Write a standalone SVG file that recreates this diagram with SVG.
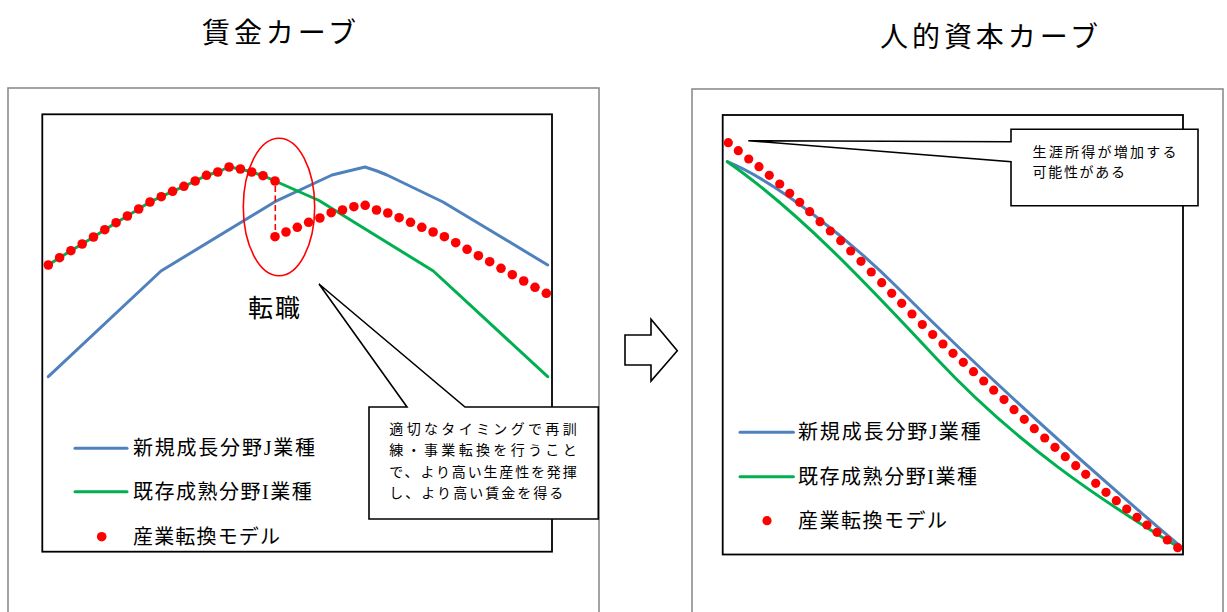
<svg xmlns="http://www.w3.org/2000/svg" width="1227" height="612" viewBox="0 0 1227 612">
<style>
.outer{fill:none;stroke:#8c8c8c;stroke-width:1.6}
.plot{fill:#fff;stroke:#000;stroke-width:1.8}
.blue{fill:none;stroke:#4f81bd;stroke-width:3;stroke-linejoin:round;stroke-linecap:round}
.green{fill:none;stroke:#00b050;stroke-width:3;stroke-linejoin:round;stroke-linecap:round}
.dot{fill:#ff0000}
.callout{fill:#fff;stroke:#000;stroke-width:1.6;stroke-linejoin:miter}
.title{font-family:"Noto Sans CJK JP","Noto Sans",sans-serif;font-size:28px;fill:#000}
.leg{font-family:"Liberation Serif","Noto Sans CJK JP",serif;font-size:20px;fill:#000}
.note{font-family:"Noto Sans CJK JP","Noto Sans",sans-serif;font-size:14px;fill:#000}
</style>
<rect width="1227" height="612" fill="#fff"/>

<g id="title-left"><text class="title" x="202" y="31" dominant-baseline="central" textLength="154" lengthAdjust="spacing">賃金カーブ</text></g>
<g id="title-right"><text class="title" x="880" y="35" dominant-baseline="central" textLength="218" lengthAdjust="spacing">人的資本カーブ</text></g>

<g id="panel-left">
<rect class="outer" x="8" y="88" width="591" height="540"/>
<rect class="plot" x="42.3" y="114.3" width="509.7" height="437.4"/>
</g>
<g id="panel-right">
<rect class="outer" x="692" y="89" width="531" height="540"/>
<rect class="plot" x="722.7" y="115" width="460.3" height="439.5"/>
</g>

<g id="connectors">
<!-- left chart curves -->
<polyline class="blue" points="48.3,376.7 161,271 275,201.7 332,175 365,167 377,171 387,175 443,202 547.7,265"/>
<polyline class="green" points="48.3,265 59.6,257.7 70.9,250.7 82.2,244 93.5,237 104.8,229.7 116.1,222.7 127.4,216 138.7,209 150,202 161.3,196.7 172.6,191.3 183.9,186.3 195.2,181 206.5,175.3 217.8,172 229.1,167 240.4,169 251.7,172 263,175.7 275,181 319,200.5 433.3,271 547.7,376.7"/>
<line x1="275.3" y1="186" x2="275.3" y2="232" stroke="#ff0000" stroke-width="1.6" stroke-dasharray="6,3.5"/>
<ellipse cx="279" cy="207" rx="35.7" ry="68.7" fill="none" stroke="#ff0000" stroke-width="1.6"/>
<!-- right chart curves -->
<path class="blue" d="M727.3,161.7 C777,182 850,240 900,290 C990,380 1090,469.5 1180,546"/>
<path class="green" d="M727.3,161.7 C797,210 866,283 936,358 C1016,443.6 1100,500 1180,548"/>
</g>

<g id="dots-left">
<circle class="dot" r="4.8" cx="48.3" cy="265"/><circle class="dot" r="4.8" cx="59.6" cy="257.7"/><circle class="dot" r="4.8" cx="70.9" cy="250.7"/><circle class="dot" r="4.8" cx="82.2" cy="244"/><circle class="dot" r="4.8" cx="93.5" cy="237"/><circle class="dot" r="4.8" cx="104.8" cy="229.7"/><circle class="dot" r="4.8" cx="116.1" cy="222.7"/><circle class="dot" r="4.8" cx="127.4" cy="216"/><circle class="dot" r="4.8" cx="138.7" cy="209"/><circle class="dot" r="4.8" cx="150" cy="202"/><circle class="dot" r="4.8" cx="161.3" cy="196.7"/><circle class="dot" r="4.8" cx="172.6" cy="191.3"/><circle class="dot" r="4.8" cx="183.9" cy="186.3"/><circle class="dot" r="4.8" cx="195.2" cy="181"/><circle class="dot" r="4.8" cx="206.5" cy="175.3"/><circle class="dot" r="4.8" cx="217.8" cy="172"/><circle class="dot" r="4.8" cx="229.1" cy="167"/><circle class="dot" r="4.8" cx="240.4" cy="169"/><circle class="dot" r="4.8" cx="251.7" cy="172"/><circle class="dot" r="4.8" cx="263" cy="175.7"/><circle class="dot" r="4.8" cx="275" cy="181"/>
<circle class="dot" r="4.8" cx="275" cy="236.7"/><circle class="dot" r="4.8" cx="286" cy="232"/><circle class="dot" r="4.8" cx="297.3" cy="227.3"/><circle class="dot" r="4.8" cx="308.6" cy="222.3"/><circle class="dot" r="4.8" cx="319.9" cy="218"/><circle class="dot" r="4.8" cx="331.2" cy="212.7"/><circle class="dot" r="4.8" cx="342.5" cy="210"/><circle class="dot" r="4.8" cx="353.9" cy="206.7"/><circle class="dot" r="4.8" cx="365.2" cy="205.3"/><circle class="dot" r="4.8" cx="376.5" cy="210"/><circle class="dot" r="4.8" cx="387.8" cy="213"/><circle class="dot" r="4.8" cx="399.1" cy="217.7"/><circle class="dot" r="4.8" cx="410.5" cy="222.3"/><circle class="dot" r="4.8" cx="421.8" cy="227.3"/><circle class="dot" r="4.8" cx="433.1" cy="232"/><circle class="dot" r="4.8" cx="444.4" cy="236.7"/><circle class="dot" r="4.8" cx="455.7" cy="242.7"/><circle class="dot" r="4.8" cx="467.1" cy="249.3"/><circle class="dot" r="4.8" cx="478.4" cy="255.7"/><circle class="dot" r="4.8" cx="489.7" cy="261.7"/><circle class="dot" r="4.8" cx="501" cy="268.3"/><circle class="dot" r="4.8" cx="512.3" cy="274.7"/><circle class="dot" r="4.8" cx="523.7" cy="281"/><circle class="dot" r="4.8" cx="535" cy="287.3"/><circle class="dot" r="4.8" cx="546.3" cy="293.3"/>
</g>

<g id="dots-right">
<circle class="dot" r="4.6" cx="728.3" cy="142.7"/><circle class="dot" r="4.6" cx="738.3" cy="150.7"/><circle class="dot" r="4.6" cx="748.7" cy="159"/><circle class="dot" r="4.6" cx="759" cy="166.7"/><circle class="dot" r="4.6" cx="769.3" cy="175.3"/><circle class="dot" r="4.6" cx="779.7" cy="184"/><circle class="dot" r="4.6" cx="789.7" cy="193.3"/><circle class="dot" r="4.6" cx="799.7" cy="202.3"/><circle class="dot" r="4.6" cx="809.7" cy="211.7"/><circle class="dot" r="4.6" cx="820" cy="221.7"/><circle class="dot" r="4.6" cx="830.3" cy="231"/><circle class="dot" r="4.6" cx="840.7" cy="240.7"/><circle class="dot" r="4.6" cx="850.7" cy="251"/><circle class="dot" r="4.6" cx="861" cy="261.3"/><circle class="dot" r="4.6" cx="871.3" cy="272"/><circle class="dot" r="4.6" cx="881.7" cy="282.7"/><circle class="dot" r="4.6" cx="891.7" cy="293.3"/><circle class="dot" r="4.6" cx="901.7" cy="303.3"/><circle class="dot" r="4.6" cx="912" cy="314"/><circle class="dot" r="4.6" cx="922.3" cy="324.5"/><circle class="dot" r="4.6" cx="932.7" cy="334.5"/><circle class="dot" r="4.6" cx="943" cy="344"/><circle class="dot" r="4.6" cx="953" cy="353.3"/><circle class="dot" r="4.6" cx="963.3" cy="362.3"/><circle class="dot" r="4.6" cx="973.5" cy="371.7"/><circle class="dot" r="4.6" cx="983.7" cy="381"/><circle class="dot" r="4.6" cx="993.7" cy="390.2"/><circle class="dot" r="4.6" cx="1004" cy="399.6"/><circle class="dot" r="4.6" cx="1014" cy="409.7"/><circle class="dot" r="4.6" cx="1024.3" cy="419.3"/><circle class="dot" r="4.6" cx="1034.3" cy="428.7"/><circle class="dot" r="4.6" cx="1044.7" cy="438"/><circle class="dot" r="4.6" cx="1055" cy="447.3"/><circle class="dot" r="4.6" cx="1065.3" cy="456.7"/><circle class="dot" r="4.6" cx="1075.7" cy="465.7"/><circle class="dot" r="4.6" cx="1085.7" cy="474.3"/><circle class="dot" r="4.6" cx="1095.7" cy="483.3"/><circle class="dot" r="4.6" cx="1106" cy="492.3"/><circle class="dot" r="4.6" cx="1116.3" cy="500.7"/><circle class="dot" r="4.6" cx="1126.7" cy="509"/><circle class="dot" r="4.6" cx="1137" cy="517.3"/><circle class="dot" r="4.6" cx="1147" cy="525"/><circle class="dot" r="4.6" cx="1157" cy="532.3"/><circle class="dot" r="4.6" cx="1167.3" cy="540"/><circle class="dot" r="4.6" cx="1177.7" cy="547.7"/>
</g>

<g id="label-tenshoku"><text x="248" y="308" font-family="'Liberation Serif','Noto Sans CJK JP',serif" font-size="25" dominant-baseline="central" textLength="52" lengthAdjust="spacing">転職</text></g>

<g id="legend-left">
<line class="blue" x1="75" y1="448.3" x2="127" y2="448.3" stroke-linecap="butt"/>
<text class="leg" x="133" y="448.3" dominant-baseline="central" textLength="182" lengthAdjust="spacing">新規成長分野J業種</text>
<line class="green" x1="75" y1="491.7" x2="127" y2="491.7" stroke-linecap="butt"/>
<text class="leg" x="133" y="491.7" dominant-baseline="central" textLength="178.7" lengthAdjust="spacing">既存成熟分野I業種</text>
<circle class="dot" cx="101.7" cy="536.7" r="4.8"/>
<text class="leg" x="133" y="536.7" dominant-baseline="central" textLength="147" lengthAdjust="spacing">産業転換モデル</text>
</g>

<g id="legend-right">
<line class="blue" x1="740" y1="432.3" x2="793.4" y2="432.3" stroke-linecap="butt"/>
<text class="leg" x="798" y="432.3" dominant-baseline="central" textLength="182.7" lengthAdjust="spacing">新規成長分野J業種</text>
<line class="green" x1="740" y1="476.7" x2="793.4" y2="476.7" stroke-linecap="butt"/>
<text class="leg" x="798" y="476.7" dominant-baseline="central" textLength="179" lengthAdjust="spacing">既存成熟分野I業種</text>
<circle class="dot" cx="767" cy="520.7" r="4.6"/>
<text class="leg" x="798" y="520.7" dominant-baseline="central" textLength="149" lengthAdjust="spacing">産業転換モデル</text>
</g>

<g id="callout-left">
<polygon class="callout" points="369,407 407,407 319,284 465,407 598.3,407 598.3,519 369,519"/>
<text class="note" x="389.3" y="427.5" dominant-baseline="central" textLength="187.4" lengthAdjust="spacing">適切なタイミングで再訓</text>
<text class="note" x="389.3" y="449" dominant-baseline="central" textLength="187.4" lengthAdjust="spacing">練・事業転換を行うこと</text>
<text class="note" x="389.3" y="470.5" dominant-baseline="central" textLength="187.4" lengthAdjust="spacing">で、より高い生産性を発揮</text>
<text class="note" x="389.3" y="492" dominant-baseline="central" textLength="174" lengthAdjust="spacing">し、より高い賃金を得る</text>
</g>

<g id="callout-right">
<polygon class="callout" points="1011,129.3 1198,129.3 1198,205.7 1011,205.7 1011,161.7 748.3,140.7 1011,141.7"/>
<text class="note" x="1032.5" y="150.7" dominant-baseline="central" textLength="144" lengthAdjust="spacing">生涯所得が増加する</text>
<text class="note" x="1032.5" y="170.7" dominant-baseline="central" textLength="92.5" lengthAdjust="spacing">可能性がある</text>
</g>

<g id="arrow">
<polygon points="625,335 651,335 651,319.3 677.3,350.7 651,381 651,365 625,365" fill="#fff" stroke="#000" stroke-width="1.6"/>
</g>
</svg>
